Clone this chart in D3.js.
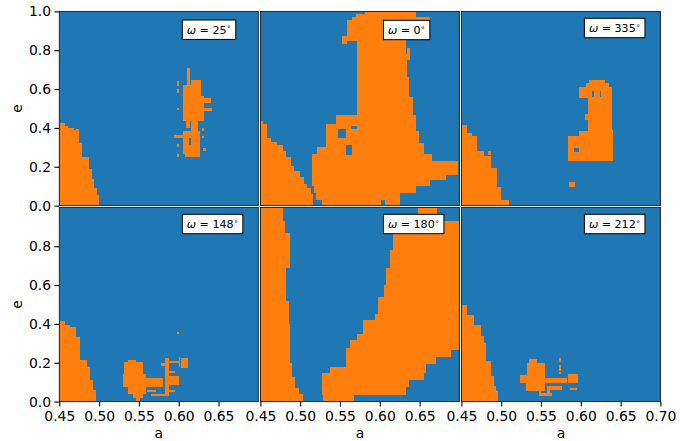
<!DOCTYPE html>
<html>
<head>
<meta charset="utf-8">
<script src="https://cdn.jsdelivr.net/npm/d3@7"></script>
<style>
  html, body { margin: 0; padding: 0; background: #ffffff; }
  svg { display: block; font-family: "DejaVu Sans", sans-serif; }
</style>
</head>
<body>
<svg id="chart" width="699" height="441"></svg>
<script>
// Stability maps in the (a, e) plane for six values of the argument of pericentre.
// Orange cells are listed as rectangles [aMin, aMax, eMin, eMax]; blue is the background.

const omegaValues = [25, 0, 335, 148, 180, 212];

const aTicks = [0.45, 0.50, 0.55, 0.60, 0.65];
const aTicksLast = [0.45, 0.50, 0.55, 0.60, 0.65, 0.70];
const eTicksTop = [0.0, 0.2, 0.4, 0.6, 0.8, 1.0];
const eTicksBottom = [0.0, 0.2, 0.4, 0.6, 0.8];

// omega = 25 deg
const orange25 = [
  [0.45, 0.457, 0.41, 0.425], [0.45, 0.461, 0.40, 0.41], [0.45, 0.468, 0.39, 0.40],
  [0.471, 0.475, 0.375, 0.395], [0.45, 0.475, 0.32, 0.39], [0.45, 0.479, 0.25, 0.32],
  [0.45, 0.487, 0.19, 0.25], [0.45, 0.491, 0.135, 0.19], [0.45, 0.494, 0.09, 0.135],
  [0.45, 0.497, 0.055, 0.09], [0.45, 0.50, 0.0, 0.055],
  [0.611, 0.614, 0.60, 0.71], [0.598, 0.601, 0.615, 0.64], [0.598, 0.601, 0.58, 0.60],
  [0.6055, 0.6167, 0.565, 0.62], [0.615, 0.628, 0.555, 0.645], [0.606, 0.632, 0.437, 0.566],
  [0.632, 0.640, 0.526, 0.553], [0.632, 0.642, 0.485, 0.505], [0.598, 0.601, 0.49, 0.505],
  [0.609, 0.6146, 0.40, 0.437], [0.6160, 0.6242, 0.385, 0.437], [0.605, 0.627, 0.265, 0.385],
  [0.5945, 0.605, 0.346, 0.363], [0.598, 0.601, 0.30, 0.316], [0.598, 0.601, 0.25, 0.265],
  [0.629, 0.632, 0.385, 0.40], [0.629, 0.632, 0.346, 0.36], [0.630, 0.634, 0.282, 0.299],
  [0.608, 0.627, 0.248, 0.268]
];
const holes25 = [
  [0.6135, 0.6155, 0.31, 0.35]
];

// omega = 0 deg
const orange0 = [
  [0.45, 0.453, 0.42, 0.435], [0.45, 0.458, 0.35, 0.42], [0.45, 0.463, 0.325, 0.35],
  [0.45, 0.471, 0.31, 0.325], [0.45, 0.479, 0.28, 0.31], [0.45, 0.482, 0.25, 0.28],
  [0.45, 0.488, 0.205, 0.25], [0.45, 0.492, 0.18, 0.205], [0.45, 0.50, 0.145, 0.18],
  [0.45, 0.505, 0.11, 0.145], [0.45, 0.509, 0.093, 0.11], [0.45, 0.513, 0.06, 0.093],
  [0.45, 0.516, 0.0, 0.06],
  [0.581, 0.645, 0.985, 1.0], [0.570, 0.645, 0.97, 0.985], [0.565, 0.6625, 0.955, 0.97],
  [0.5592, 0.633, 0.85, 0.955], [0.553, 0.5592, 0.83, 0.875], [0.5708, 0.633, 0.78, 0.85],
  [0.5708, 0.634, 0.66, 0.78], [0.634, 0.638, 0.75, 0.81], [0.5708, 0.637, 0.56, 0.66],
  [0.5708, 0.642, 0.465, 0.56], [0.5446, 0.645, 0.42, 0.465], [0.5325, 0.645, 0.385, 0.42],
  [0.5325, 0.649, 0.32, 0.385], [0.5325, 0.656, 0.30, 0.32], [0.5217, 0.656, 0.265, 0.30],
  [0.5154, 0.665, 0.23, 0.265], [0.5154, 0.698, 0.155, 0.23], [0.5154, 0.683, 0.13, 0.155],
  [0.5154, 0.6625, 0.10, 0.13], [0.5175, 0.646, 0.065, 0.10], [0.520, 0.625, 0.03, 0.065],
  [0.527, 0.602, 0.0, 0.03], [0.606, 0.625, 0.0, 0.03]
];
const holes0 = [
  [0.5470, 0.558, 0.35, 0.395], [0.557, 0.5645, 0.26, 0.31], [0.5640, 0.5708, 0.395, 0.41]
];

// omega = 335 deg
const orange335 = [
  [0.45, 0.4566, 0.373, 0.416], [0.45, 0.4638, 0.356, 0.373], [0.45, 0.470, 0.279, 0.356],
  [0.45, 0.4783, 0.253, 0.279], [0.45, 0.4876, 0.193, 0.253], [0.45, 0.4951, 0.098, 0.193],
  [0.45, 0.4992, 0.029, 0.098], [0.45, 0.5096, 0.0, 0.029], [0.4833, 0.4876, 0.261, 0.279],
  [0.6099, 0.6308, 0.630, 0.645], [0.6060, 0.6350, 0.612, 0.630], [0.5974, 0.6392, 0.553, 0.612],
  [0.6091, 0.6392, 0.39, 0.553], [0.6050, 0.6091, 0.44, 0.47], [0.598, 0.6091, 0.36, 0.385],
  [0.584, 0.6091, 0.23, 0.36], [0.6091, 0.640, 0.23, 0.39], [0.585, 0.593, 0.098, 0.122]
];
const holes335 = [
  [0.591, 0.598, 0.277, 0.296], [0.6146, 0.6160, 0.56, 0.59], [0.6242, 0.6256, 0.56, 0.59]
];

// omega = 148 deg
const orange148 = [
  [0.45, 0.4571, 0.393, 0.415], [0.45, 0.4634, 0.385, 0.393], [0.45, 0.4709, 0.333, 0.385],
  [0.45, 0.4759, 0.214, 0.333], [0.45, 0.4851, 0.179, 0.214], [0.45, 0.4885, 0.111, 0.179],
  [0.45, 0.4918, 0.060, 0.111], [0.45, 0.4956, 0.0, 0.060],
  [0.5364, 0.5469, 0.205, 0.215], [0.5310, 0.5552, 0.14, 0.205], [0.5302, 0.5594, 0.085, 0.14],
  [0.5302, 0.5803, 0.075, 0.12], [0.536, 0.5594, 0.04, 0.085], [0.5427, 0.5552, 0.02, 0.04],
  [0.5469, 0.5510, 0.0, 0.02], [0.5600, 0.5720, 0.05, 0.058], [0.5650, 0.5830, 0.03, 0.038],
  [0.5832, 0.5874, 0.03, 0.225], [0.5874, 0.600, 0.20, 0.21], [0.5874, 0.595, 0.145, 0.155],
  [0.5874, 0.600, 0.085, 0.13], [0.5874, 0.595, 0.05, 0.06], [0.5782, 0.5824, 0.185, 0.197],
  [0.6033, 0.6117, 0.175, 0.222], [0.6000, 0.6012, 0.18, 0.232], [0.598, 0.600, 0.348, 0.357]
];
const holes148 = [];

// omega = 180 deg
const orange180 = [
  [0.45, 0.479, 0.93, 1.0], [0.45, 0.481, 0.87, 0.93], [0.45, 0.4875, 0.69, 0.87],
  [0.45, 0.482, 0.52, 0.69], [0.45, 0.486, 0.40, 0.52], [0.45, 0.4875, 0.20, 0.40],
  [0.45, 0.4896, 0.125, 0.20], [0.45, 0.4938, 0.07, 0.125], [0.45, 0.498, 0.04, 0.07],
  [0.45, 0.504, 0.0, 0.04],
  [0.648, 0.672, 0.965, 1.0], [0.672, 0.70, 0.89, 0.93], [0.6167, 0.70, 0.78, 0.89],
  [0.6125, 0.70, 0.69, 0.78], [0.6083, 0.70, 0.60, 0.69], [0.605, 0.70, 0.54, 0.60],
  [0.598, 0.70, 0.45, 0.54], [0.5938, 0.70, 0.42, 0.45], [0.579, 0.70, 0.35, 0.42],
  [0.5708, 0.70, 0.315, 0.35], [0.5625, 0.70, 0.275, 0.315], [0.558, 0.70, 0.265, 0.275],
  [0.558, 0.689, 0.23, 0.265], [0.558, 0.67, 0.196, 0.23], [0.558, 0.658, 0.18, 0.196],
  [0.5375, 0.658, 0.145, 0.18], [0.527, 0.655, 0.11, 0.145], [0.527, 0.637, 0.076, 0.11],
  [0.527, 0.633, 0.035, 0.076], [0.529, 0.567, 0.0, 0.035]
];
const holes180 = [];

// omega = 212 deg
const orange212 = [
  [0.45, 0.4566, 0.448, 0.496], [0.45, 0.4658, 0.397, 0.448], [0.45, 0.475, 0.337, 0.397],
  [0.45, 0.4783, 0.302, 0.337], [0.45, 0.4804, 0.208, 0.302], [0.45, 0.4867, 0.131, 0.208],
  [0.45, 0.4909, 0.08, 0.131], [0.45, 0.4930, 0.055, 0.08], [0.45, 0.4959, 0.0, 0.055],
  [0.5347, 0.5452, 0.199, 0.217], [0.5326, 0.5556, 0.139, 0.199], [0.5234, 0.5556, 0.097, 0.139],
  [0.5306, 0.5556, 0.054, 0.097], [0.5556, 0.5828, 0.097, 0.122], [0.5577, 0.5765, 0.062, 0.079],
  [0.5481, 0.564, 0.028, 0.045], [0.5481, 0.5506, 0.028, 0.054], [0.5577, 0.561, 0.028, 0.062],
  [0.5732, 0.5757, 0.205, 0.225], [0.5732, 0.5757, 0.16, 0.19], [0.5732, 0.5757, 0.14, 0.15],
  [0.5836, 0.5961, 0.097, 0.14], [0.587, 0.5953, 0.059, 0.071]
];
const holes212 = [];

const orangeSets = [orange25, orange0, orange335, orange148, orange180, orange212];
const holeSets = [holes25, holes0, holes335, holes148, holes180, holes212];

// ---- layout ----
const BLUE = "#1f77b4", ORANGE = "#ff7f0e";
const colX = [59.3, 260.4, 461.4], panelW = 199.0;
const rowY = [11.4, 207.4], panelH = 194.2;
const boxTop = [8.6, 8.9, 6.9, 6.9, 6.9, 6.9];
const tickFont = 13.9;

const svg = d3.select("#chart");

function rectPath(rects, x, y) {
  return rects.map(([a0, a1, e0, e1]) => {
    const X0 = x(a0), X1 = x(a1), Y0 = y(e1), Y1 = y(e0);
    return `M${X0},${Y0}H${X1}V${Y1}H${X0}Z`;
  }).join("");
}

omegaValues.forEach((omega, i) => {
  const col = i % 3, row = Math.floor(i / 3);
  const x0 = colX[col], y0 = rowY[row];
  const x = d3.scaleLinear().domain([0.45, 0.70]).range([x0, x0 + panelW]);
  const y = d3.scaleLinear().domain([0, 1]).range([y0 + panelH, y0]);

  const clipId = "clip" + i;
  svg.append("clipPath").attr("id", clipId)
    .append("rect").attr("x", x0).attr("y", y0).attr("width", panelW).attr("height", panelH);

  const g = svg.append("g").attr("clip-path", `url(#${clipId})`);
  g.append("rect").attr("x", x0).attr("y", y0).attr("width", panelW).attr("height", panelH)
    .attr("fill", BLUE);
  g.append("path").attr("d", rectPath(orangeSets[i], x, y))
    .attr("fill", ORANGE).attr("shape-rendering", "crispEdges");
  if (holeSets[i].length)
    g.append("path").attr("d", rectPath(holeSets[i], x, y))
      .attr("fill", BLUE).attr("shape-rendering", "crispEdges");

  // frame
  svg.append("rect").attr("x", x0).attr("y", y0).attr("width", panelW).attr("height", panelH)
    .attr("fill", "none").attr("stroke", "#111").attr("stroke-width", 0.9);

  // omega label box
  const bx = x0 + 123, by = y0 + boxTop[i];
  const lg = svg.append("g");
  const box = lg.append("rect").attr("x", bx).attr("y", by).attr("height", 19.4)
    .attr("fill", "#fff").attr("stroke", "#000").attr("stroke-width", 1);
  const t = lg.append("text").attr("x", bx + 4.5).attr("y", by + 13.7)
    .attr("font-size", 11.1).attr("fill", "#000");
  t.append("tspan").attr("font-style", "italic").text("ω");
  t.append("tspan").text(" = " + omega);
  t.append("tspan").attr("font-size", 7.5).attr("dy", -4.5).text("∘");
  const w = t.node().getComputedTextLength();
  box.attr("width", w + 9);

  // axes on outer panels
  if (col === 0) {
    const ay = svg.append("g").attr("transform", `translate(${x0},0)`)
      .call(d3.axisLeft(y).tickValues(row === 0 ? eTicksTop : eTicksBottom)
        .tickFormat(d3.format(".1f")).tickSize(4.9).tickPadding(3.4).tickSizeOuter(0));
    ay.select(".domain").remove();
    ay.selectAll("line").attr("stroke", "#000").attr("stroke-width", 1.1);
    ay.selectAll("text").attr("font-size", tickFont).attr("font-family", "DejaVu Sans").attr("fill", "#000");
    svg.append("text").attr("transform", `translate(21.5,${y0 + panelH / 2}) rotate(-90)`)
      .attr("text-anchor", "middle").attr("font-size", tickFont).attr("fill", "#000").text("e");
  }
  if (row === 1) {
    const ax = svg.append("g").attr("transform", `translate(0,${y0 + panelH})`)
      .call(d3.axisBottom(x).tickValues(col === 2 ? aTicksLast : aTicks)
        .tickFormat(d3.format(".2f")).tickSize(4.9).tickPadding(4.3).tickSizeOuter(0));
    ax.select(".domain").remove();
    ax.selectAll("line").attr("stroke", "#000").attr("stroke-width", 1.1);
    ax.selectAll("text").attr("font-size", tickFont).attr("font-family", "DejaVu Sans").attr("fill", "#000");
    svg.append("text").attr("x", x0 + panelW / 2).attr("y", 437.5)
      .attr("text-anchor", "middle").attr("font-size", tickFont).attr("fill", "#000").text("a");
  }
});
</script>
</body>
</html>
